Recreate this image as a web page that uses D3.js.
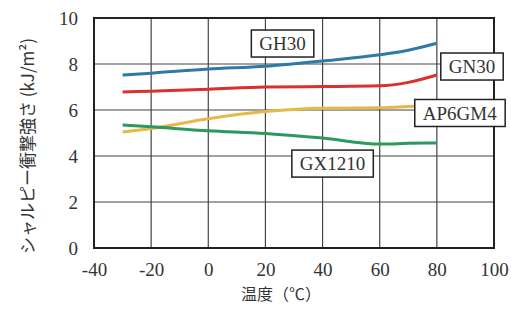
<!DOCTYPE html>
<html>
<head>
<meta charset="utf-8">
<script src="https://cdn.jsdelivr.net/npm/d3@7"></script>
<style>
  body { margin: 0; background: #fff; }
  .serif { font-family: "Liberation Serif", "DejaVu Serif", "Times New Roman", serif; }
</style>
</head>
<body>
<div id="chart"></div>
<script>
// Temperature points (°C)
var temps = [-30, -20, 0, 20, 40, 60, 70, 80];

// Charpy impact strength (kJ/m2) per grade
var gh30   = [7.52, 7.6, 7.78, 7.9, 8.13, 8.4, 8.6, 8.9];
var gn30   = [6.78, 6.82, 6.9, 7.0, 7.02, 7.05, 7.2, 7.52];
var ap6gm4 = [5.04, 5.2, 5.62, 5.93, 6.08, 6.1, 6.15, 6.2];
var gx1210 = [5.35, 5.27, 5.1, 4.98, 4.78, 4.52, 4.55, 4.57];

var seriesNames = ["GH30", "GN30", "AP6GM4", "GX1210"];
var seriesValues = [gh30, gn30, ap6gm4, gx1210];
var seriesColors = ["#2f79a6", "#d8322c", "#e6b84a", "#2b9a5c"];

var xTicks = [-40, -20, 0, 20, 40, 60, 80, 100];
var yTicks = [0, 2, 4, 6, 8, 10];

// Label boxes: centre in data units
var labelPos = [
    { name: "GH30",   x: 26,  y: 8.89 },
    { name: "GN30",   x: 92.3, y: 7.89 },
    { name: "AP6GM4", x: 88,  y: 5.87 },
    { name: "GX1210", x: 43.5, y: 3.67 }
];

var width = 511, height = 313;
var margin = { top: 18, right: 17, bottom: 65, left: 94 };

var svg = d3.select("#chart").append("svg")
    .attr("width", width)
    .attr("height", height);

var x = d3.scaleLinear().domain([-40, 100]).range([margin.left, width - margin.right]);
var y = d3.scaleLinear().domain([0, 10]).range([height - margin.bottom, margin.top]);

// gridlines
svg.append("g")
    .selectAll("line.vg")
    .data(xTicks.slice(1, -1))
    .enter().append("line")
    .attr("x1", function (d) { return x(d); })
    .attr("x2", function (d) { return x(d); })
    .attr("y1", y(0)).attr("y2", y(10))
    .attr("stroke", "#444").attr("stroke-width", 1.2);

svg.append("g")
    .selectAll("line.hg")
    .data(yTicks.slice(1, -1))
    .enter().append("line")
    .attr("x1", x(-40)).attr("x2", x(100))
    .attr("y1", function (d) { return y(d); })
    .attr("y2", function (d) { return y(d); })
    .attr("stroke", "#444").attr("stroke-width", 1.2);

// axes (labels only)
var fmt = function (d) { return d < 0 ? "-" + Math.abs(d) : String(d); };

var xAxis = svg.append("g")
    .attr("transform", "translate(0," + y(0) + ")")
    .call(d3.axisBottom(x).tickValues(xTicks).tickFormat(fmt).tickSize(0).tickPadding(15))
    .attr("font-family", null)
    .attr("font-size", 19);
xAxis.select(".domain").remove();
xAxis.selectAll("text").attr("class", "serif").attr("fill", "#333");

var yAxis = svg.append("g")
    .attr("transform", "translate(" + (x(-40) - 16) + ",0)")
    .call(d3.axisLeft(y).tickValues(yTicks).tickFormat(fmt).tickSize(0).tickPadding(0))
    .attr("font-family", null)
    .attr("font-size", 19);
yAxis.select(".domain").remove();
yAxis.selectAll("text").attr("class", "serif").attr("fill", "#333");

// series lines
var line = d3.line()
    .x(function (d, i) { return x(temps[i]); })
    .y(function (d) { return y(d); })
    .curve(d3.curveMonotoneX);

svg.append("g")
    .selectAll("path")
    .data(seriesValues)
    .enter().append("path")
    .attr("d", line)
    .attr("fill", "none")
    .attr("stroke", function (d, i) { return seriesColors[i]; })
    .attr("stroke-width", 3);

// frame
svg.append("rect")
    .attr("x", x(-40)).attr("y", y(10))
    .attr("width", x(100) - x(-40))
    .attr("height", y(0) - y(10))
    .attr("fill", "none")
    .attr("stroke", "#222")
    .attr("stroke-width", 2);

// label boxes
labelPos.forEach(function (l) {
    var g = svg.append("g").attr("transform", "translate(" + x(l.x) + "," + y(l.y) + ")");
    var t = g.append("text")
        .attr("class", "serif")
        .attr("text-anchor", "middle")
        .attr("dy", "0.35em")
        .attr("font-size", 19)
        .attr("fill", "#333")
        .text(l.name);
    var bb = t.node().getBBox();
    g.insert("rect", "text")
        .attr("x", bb.x - 8).attr("y", -13.5)
        .attr("width", bb.width + 16).attr("height", 27)
        .attr("fill", "#fff")
        .attr("stroke", "#222")
        .attr("stroke-width", 1.5);
});

// axis titles
svg.append("text")
    .attr("x", 281).attr("y", 300)
    .attr("text-anchor", "middle")
    .attr("font-family", "Noto Sans CJK JP, sans-serif")
    .attr("font-size", 16)
    .attr("fill", "#333")
    .text("温度（℃）");

svg.append("text")
    .attr("transform", "translate(28,146) rotate(-90)")
    .attr("text-anchor", "middle")
    .attr("dy", "0.35em")
    .attr("font-family", "Noto Sans CJK JP, sans-serif")
    .attr("font-size", 17)
    .attr("fill", "#333")
    .text("シャルピー衝撃強さ (kJ/m²)");
</script>
</body>
</html>
